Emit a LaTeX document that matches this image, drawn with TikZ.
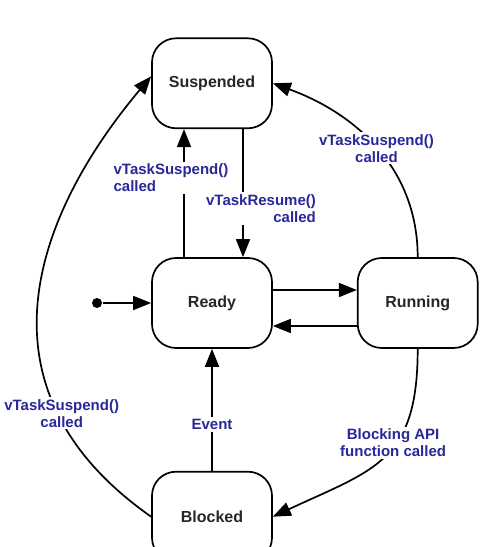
\documentclass[tikz,border=0pt]{standalone}
\usepackage{fontspec}
\setmainfont{Liberation Sans}
\usepackage{tikz}
\usetikzlibrary{automata,arrows.meta,positioning,calc}
\definecolor{labelblue}{RGB}{40,40,155}

\begin{document}
\begin{tikzpicture}[->, >={Triangle[length=18pt,width=14pt]}, line width=1.7pt, x=1pt, y=1pt]
\tikzstyle{every state}=[rectangle, rounded corners=24pt, fill=white, draw=black, line width=1.7pt, text=black!85, minimum width=120pt, minimum height=90pt, font=\fontsize{16}{19}\selectfont\bfseries]
\tikzstyle{trans}=[fill=white, text=labelblue, inner sep=2pt, font=\fontsize{15}{17}\selectfont\bfseries]
\useasboundingbox (0,0) rectangle (487,547);
\node[state]    (ready)     at (212,244)            {Ready};
\node[state]    (running)   [right=84pt of ready]   {Running};
\node[state]    (suspended) [above=128pt of ready]  {Suspended};
\node[state]    (blocked)   [below=122pt of ready]  {Blocked};
\node[circle, fill=black, inner sep=0pt, minimum size=10pt] (init) at (97,244) {};

\draw (init) -- (ready);
\draw ([xshift=-28pt]ready.north) -- node[trans, align=left, pos=0.62, xshift=-13pt] {vTaskSuspend()\\called} ([xshift=-28pt]ready.north |- suspended.south);
\draw ([xshift=31pt]suspended.south) -- node[trans, align=right, pos=0.62, xshift=18pt] {vTaskResume()\\called} ([xshift=31pt]suspended.south |- ready.north);
\draw ([yshift=13pt]ready.east) -- ([yshift=13pt]ready.east -| running.west);
\draw ([yshift=-23pt]running.west) -- ([yshift=-23pt]running.west -| ready.east);
\draw (blocked) -- node[trans, pos=0.38] {Event} (ready);

\draw (running.north) to[out=90, in=-20] node[trans, align=center] {vTaskSuspend()\\called} (suspended.east);
\draw (running.south) to[out=-90, in=25, looseness=1.3] node[trans, align=center, pos=0.4, xshift=-3pt] {Blocking API\\function called} (blocked.east);
\draw (blocked.west) to[out=145, in=230, out looseness=1.3, in looseness=1.05] node[trans, align=center, pos=0.25, xshift=4pt] {vTaskSuspend()\\called} ([yshift=7pt]suspended.west);
\end{tikzpicture}
\end{document}
